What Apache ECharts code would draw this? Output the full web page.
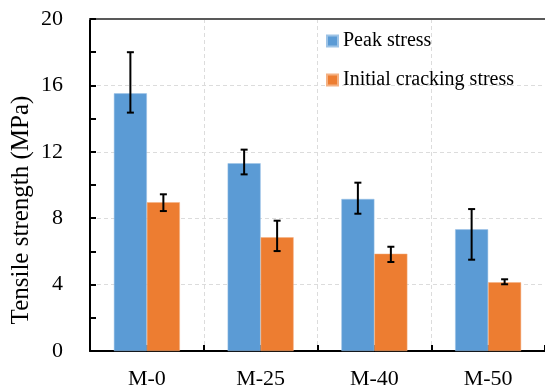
<!DOCTYPE html>
<html>
<head>
<meta charset="utf-8">
<script src="https://cdn.jsdelivr.net/npm/echarts@6/dist/echarts.min.js"></script>
<style>html,body{margin:0;padding:0;background:#fff;}#c{width:545px;height:392px;}</style>
</head>
<body>
<div id="c"></div>
<script>
const categories = ['M-0', 'M-25', 'M-40', 'M-50'];
const peakStress = [15.52, 11.31, 9.16, 7.33];
const peakUpper = [18.0, 12.13, 10.14, 8.55];
const peakLower = [14.36, 10.64, 8.27, 5.5];
const crackStress = [8.96, 6.85, 5.86, 4.14];
const crackUpper = [9.44, 7.85, 6.28, 4.32];
const crackLower = [8.43, 6.02, 5.36, 4.02];
const yTicks = [0, 4, 8, 12, 16, 20];
const yTitle = 'Tensile strength (MPa)';

const FONT = '"Liberation Serif", "Times New Roman", serif';
const GAP = 0.42;

function errSeries(lo, hi, side) {
  return {
    type: 'custom',
    xAxisIndex: 0,
    z: 10,
    data: categories.map((c, i) => [i, lo[i], hi[i]]),
    renderItem: function (params, api) {
      const band = api.size([1, 0])[0];
      const off = side * band * (1 - GAP) / 4;
      const pLo = api.coord([api.value(0), api.value(1)]);
      const pHi = api.coord([api.value(0), api.value(2)]);
      const x = pLo[0] + off;
      const cap = 3.5;
      const st = { stroke: '#000', lineWidth: 2 };
      return {
        type: 'group',
        children: [
          { type: 'line', shape: { x1: x, y1: pLo[1], x2: x, y2: pHi[1] }, style: st },
          { type: 'line', shape: { x1: x - cap, y1: pLo[1], x2: x + cap, y2: pLo[1] }, style: st },
          { type: 'line', shape: { x1: x - cap, y1: pHi[1], x2: x + cap, y2: pHi[1] }, style: st }
        ]
      };
    }
  };
}

const chart = echarts.init(document.getElementById('c'), null, { renderer: 'canvas' });
chart.setOption({
  animation: false,
  backgroundColor: '#fff',
  textStyle: { fontFamily: FONT },
  grid: { left: 90, top: 19, width: 458, bottom: 41, containLabel: false },
  graphic: [{
    type: 'text',
    x: 21,
    y: 210,
    rotation: Math.PI / 2,
    style: {
      text: yTitle,
      x: 0, y: 0,
      align: 'center',
      verticalAlign: 'middle',
      font: '25px "Liberation Serif", "Times New Roman", serif',
      fill: '#000'
    }
  }],
  legend: {
    orient: 'vertical',
    left: 321,
    top: 26,
    itemWidth: 11,
    itemHeight: 11,
    itemGap: 19,
    itemTextGap: 5,
    icon: 'rect',
    textStyle: { fontFamily: FONT, fontSize: 20, color: '#000' },
    data: ['Peak stress', 'Initial cracking stress']
  },
  xAxis: [
    {
      type: 'category',
      data: categories,
      position: 'bottom',
      axisLine: { lineStyle: { color: '#000', width: 2 } },
      axisTick: { show: true, inside: true, length: 6, lineStyle: { color: '#000', width: 2 } },
      axisLabel: { fontFamily: FONT, fontSize: 22, color: '#000', margin: 17 },
      splitLine: { show: true, lineStyle: { color: '#dcdcdc', type: [4, 3], width: 1 } }
    },
    {
      type: 'category',
      data: categories,
      position: 'top',
      axisLine: { show: true, lineStyle: { color: '#595959', width: 2 } },
      axisTick: { show: false },
      axisLabel: { show: false },
      splitLine: { show: false }
    },
    {
      type: 'category',
      data: categories,
      position: 'bottom',
      axisLine: { show: false },
      axisTick: { show: true, inside: true, alignWithLabel: true, length: 6, lineStyle: { color: '#000', width: 2 } },
      axisLabel: { show: false },
      splitLine: { show: false }
    }
  ],
  yAxis: {
    type: 'value',
    min: yTicks[0],
    max: yTicks[yTicks.length - 1],
    interval: 4,
    axisLine: { show: true, lineStyle: { color: '#000', width: 2 } },
    axisTick: { show: true, inside: true, length: 6, lineStyle: { color: '#000', width: 2 } },
    minorTick: { show: true, splitNumber: 2, length: 6, lineStyle: { color: '#000', width: 2 } },
    axisLabel: { fontFamily: FONT, fontSize: 22, color: '#000', margin: 27 },
    splitLine: { show: true, lineStyle: { color: '#dcdcdc', type: [4, 3], width: 1 } }
  },
  series: [
    {
      name: 'Peak stress',
      type: 'bar',
      data: peakStress,
      barGap: '0%',
      barCategoryGap: (GAP * 100) + '%',
      itemStyle: { color: '#5B9BD5', borderColor: '#9dc3e6', borderWidth: 0.5 }
    },
    {
      name: 'Initial cracking stress',
      type: 'bar',
      data: crackStress,
      barGap: '0%',
      barCategoryGap: (GAP * 100) + '%',
      itemStyle: { color: '#ED7D31', borderColor: '#f4b183', borderWidth: 0.5 }
    },
    errSeries(peakLower, peakUpper, -1),
    errSeries(crackLower, crackUpper, 1)
  ]
});
</script>
</body>
</html>
